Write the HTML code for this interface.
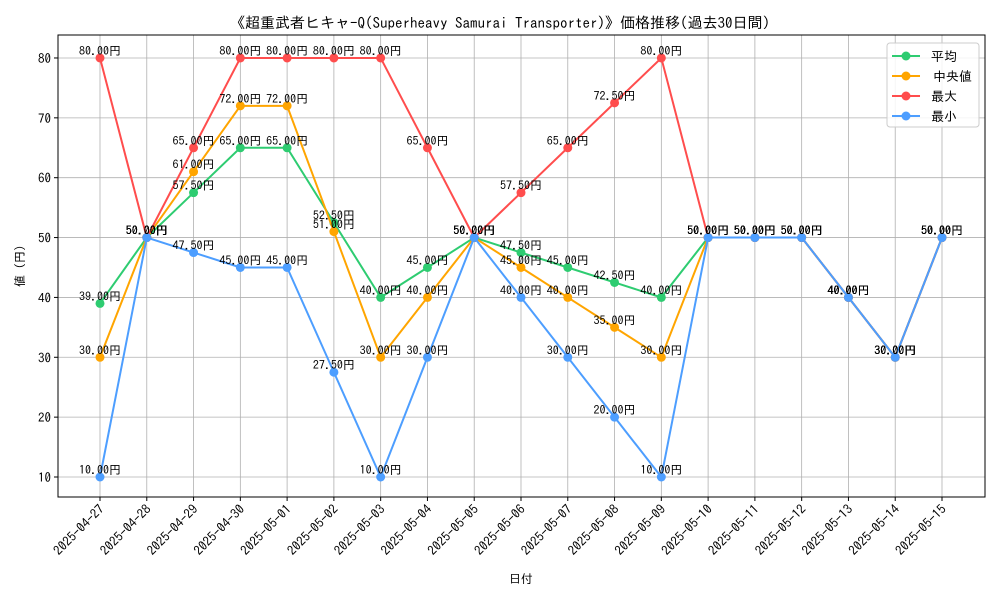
<!DOCTYPE html>
<html><head><meta charset="utf-8"><style>
body{margin:0;background:#fff}
svg{font-family:"IPAGothic","Noto Sans CJK JP",monospace}
</style></head><body>
<svg id="c" width="1000" height="600" xmlns="http://www.w3.org/2000/svg"></svg>
<script>
const categories=["2025-04-27","2025-04-28","2025-04-29","2025-04-30","2025-05-01","2025-05-02","2025-05-03","2025-05-04","2025-05-05","2025-05-06","2025-05-07","2025-05-08","2025-05-09","2025-05-10","2025-05-11","2025-05-12","2025-05-13","2025-05-14","2025-05-15"];
const avgValues=[39,50,57.5,65,65,52.5,40,45,50,47.5,45,42.5,40,50,50,50,40,30,50];
const medianValues=[30,50,61,72,72,51,30,40,50,45,40,35,30,50,50,50,40,30,50];
const maxValues=[80,50,65,80,80,80,80,65,50,57.5,65,72.5,80,50,50,50,40,30,50];
const minValues=[10,50,47.5,45,45,27.5,10,30,50,40,30,20,10,50,50,50,40,30,50];
const yTicks=[10,20,30,40,50,60,70,80];
const NS="http://www.w3.org/2000/svg";
const svg=document.getElementById('c');
const L=58,R=985,T=35,B=497;
const xs=i=>100+i*(842/(categories.length-1));
const ys=v=>477-(v-10)*5.986;
function mk(t,a,p){const e=document.createElementNS(NS,t);for(const k in a)e.setAttribute(k,a[k]);(p||svg).appendChild(e);return e;}
yTicks.forEach(v=>{
 const g=mk('line',{x1:L,x2:R,y1:ys(v),y2:ys(v),stroke:'#b0b0b0','stroke-width':0.8});
 
 mk('line',{x1:L-4,x2:L,y1:ys(v),y2:ys(v),stroke:'#000'});
 const t=mk('text',{x:L-7,y:ys(v)+5,'text-anchor':'end','font-size':13});t.textContent=v;
 
});
categories.forEach((c,i)=>{
 const g=mk('line',{x1:xs(i),x2:xs(i),y1:T,y2:B,stroke:'#b0b0b0','stroke-width':0.8});
 
 mk('line',{x1:xs(i),x2:xs(i),y1:B,y2:B+4,stroke:'#000'});
 const t=mk('text',{x:xs(i)+5,y:B+13,'text-anchor':'end','font-size':13,transform:`rotate(-45 ${xs(i)+5} ${B+13})`});t.textContent=c;
 
});
const fr=mk('rect',{x:L,y:T,width:R-L,height:B-T,fill:'none',stroke:'#000','stroke-width':1});

const series=[["avg",avgValues,"#2ecc71"],["median",medianValues,"#ffa500"],["max",maxValues,"#ff4d4d"],["min",minValues,"#4d9eff"]];
series.forEach(([n,vals,col])=>{
 const g=mk('g',{});
 mk('polyline',{points:vals.map((v,i)=>xs(i)+','+ys(v)).join(' '),fill:'none',stroke:col,'stroke-width':2},g);
 vals.forEach((v,i)=>{
  const c=mk('circle',{cx:xs(i),cy:ys(v),r:4.5,fill:col},g);
  
 });
});
series.forEach(([n,vals])=>{
 vals.forEach((v,i)=>{
  const t=mk('text',{x:xs(i),y:ys(v)-3,'text-anchor':'middle','font-size':12});t.textContent=v.toFixed(2)+'円';
  
 });
});
const ti=mk('text',{x:500,y:28,'text-anchor':'middle','font-size':15});ti.textContent='《超重武者ヒキャ-Q(Superheavy Samurai Transporter)》価格推移(過去30日間)';

const xl=mk('text',{x:521,y:583,'text-anchor':'middle','font-size':12});xl.textContent='日付';

const yl=mk('text',{x:24,y:266,'text-anchor':'middle','font-size':12,transform:'rotate(-90 24 266)'});yl.textContent='値 (円)';

const lg=mk('g',{});
mk('rect',{x:887,y:43,width:92,height:84,rx:3,fill:'#fff','fill-opacity':0.85,stroke:'#ccc'},lg);
const names=["平均","中央値","最大","最小"];
series.forEach(([n,vals,col],k)=>{
 const y=56+k*20;
 const e=mk('g',{},lg);
 mk('line',{x1:892,x2:920,y1:y,y2:y,stroke:col,'stroke-width':2},e);
 mk('circle',{cx:906,cy:y,r:4.5,fill:col},e);
 const t=mk('text',{x:931+(k==1?2:0),y:y+5,'font-size':13},e);t.textContent=names[k];
});
</script>
</body></html>
